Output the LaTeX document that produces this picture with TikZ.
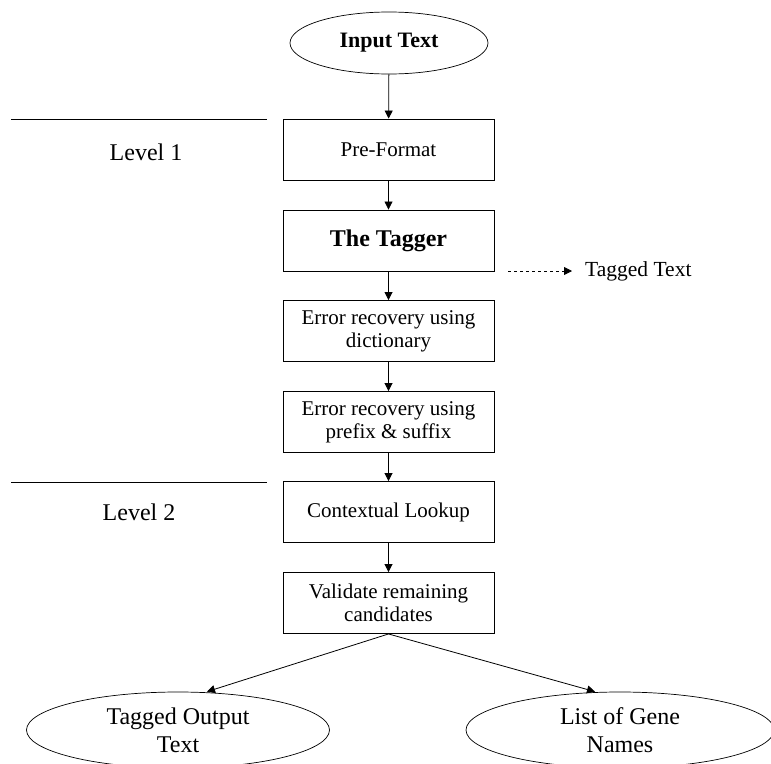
\documentclass[tikz,border=0pt]{standalone}
\usepackage{fontspec}
\setmainfont{Liberation Serif}
\usetikzlibrary{shapes.geometric,arrows.meta}
\tikzset{
  stepbox/.style={draw, line width=0.9pt, minimum width=211pt, minimum height=61pt, inner sep=2pt, align=center, font=\fontsize{21}{23}\selectfont},
  termnode/.style={draw, ellipse, line width=0.7pt, inner sep=0pt, align=center},
  flow/.style={line width=0.8pt, -{Triangle[length=8pt,width=8pt]}},
  lvlline/.style={line width=0.8pt},
  lvltext/.style={font=\fontsize{24}{26}\selectfont}
}
\begin{document}
\begin{tikzpicture}[x=1pt,y=-1pt]
\useasboundingbox (0,0) rectangle (771,763);
\clip (0,0) rectangle (771,763);
% top terminal
\node[termnode, minimum width=198pt, minimum height=62pt, font=\bfseries\fontsize{22}{24}\selectfont] (in) at (389,43) {Input Text};
% boxes
\node[stepbox] (pre) at (388.5,149.5) {Pre-Format};
\node[stepbox, font=\bfseries\fontsize{24}{27}\selectfont] (tag) at (388.5,240.5) {The Tagger};
\node[stepbox] (dict) at (388.5,331) {Error recovery using\\dictionary};
\node[stepbox] (pfx) at (388.5,422) {Error recovery using\\prefix \& suffix};
\node[stepbox] (ctx) at (388.5,512) {Contextual Lookup};
\node[stepbox] (val) at (388.5,603) {Validate remaining\\candidates};
% bottom terminals
\node[termnode, minimum width=303pt, minimum height=76pt, font=\fontsize{24}{28}\selectfont] (lo) at (178,730) {Tagged Output\\Text};
\node[termnode, minimum width=308pt, minimum height=76pt, font=\fontsize{24}{28}\selectfont] (ro) at (620,730) {List of Gene\\Names};
% levels
\coordinate (l1a) at (11,119);
\coordinate (l1b) at (267,119);
\coordinate (l2a) at (11,482);
\coordinate (l2b) at (267,482);
\draw[lvlline] (l1a) -- (l1b);
\draw[lvlline] (l2a) -- (l2b);
\node[lvltext] (lv1) at (146,152) {Level 1};
\node[lvltext] (lv2) at (139,512) {Level 2};
% tagged text side output
\node[anchor=west, inner sep=0pt, font=\fontsize{21.5}{23}\selectfont] (ttxt) at (585,271) {Tagged Text};
\coordinate (tt0) at (508,271);
\coordinate (tt1) at (572,271);
\draw[line width=0.8pt, dash pattern=on 3pt off 3pt, -{Triangle[length=8pt,width=8pt]}] (tt0) -- (tt1);
% flow
\draw[flow] (in) -- (pre);
\draw[flow] (pre) -- (tag);
\draw[flow] (tag) -- (dict);
\draw[flow] (dict) -- (pfx);
\draw[flow] (pfx) -- (ctx);
\draw[flow] (ctx) -- (val);
\draw[flow] (val.south) -- ([xshift=29pt]lo.north);
\draw[flow] (val.south) -- ([xshift=-25pt]ro.north);
\end{tikzpicture}
\end{document}
